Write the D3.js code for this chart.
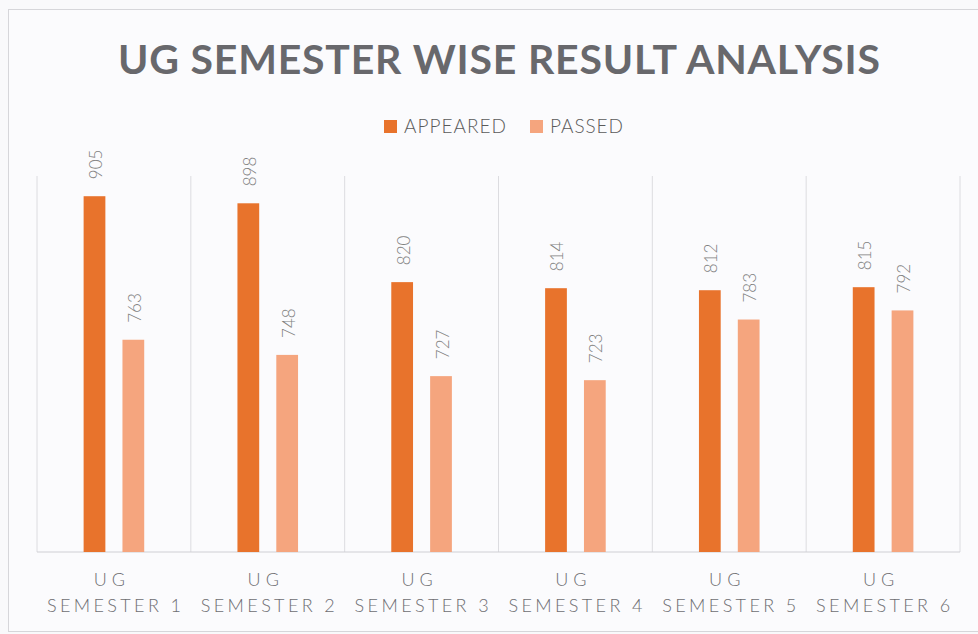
<!DOCTYPE html>
<html>
<head>
<meta charset="utf-8">
<script src="https://cdn.jsdelivr.net/npm/d3@7"></script>
<style>
  body { margin: 0; background: #f9f9fb; }
  svg text { font-family: Lato, "Open Sans", sans-serif; }
</style>
</head>
<body>
<svg id="chart" width="978" height="634"></svg>
<script>
const categories = ["SEMESTER 1", "SEMESTER 2", "SEMESTER 3", "SEMESTER 4", "SEMESTER 5", "SEMESTER 6"];
const series = ["APPEARED", "PASSED"];
const appeared = [905, 898, 820, 814, 812, 815];
const passed = [763, 748, 727, 723, 783, 792];
const colors = { APPEARED: "#e8732c", PASSED: "#f5a57e" };

const svg = d3.select("#chart");
const margin = { left: 37, right: 18, top: 176, bottom: 82 };
const W = 978, H = 634;

// chart border
svg.append("rect")
  .attr("x", 8.5).attr("y", 9.5)
  .attr("width", 980).attr("height", 622)
  .attr("fill", "#fbfbfd").attr("stroke", "#d6d6da");

const x0 = d3.scaleBand().domain(categories).range([margin.left, W - margin.right]);
const x1 = d3.scaleBand().domain(series).range([0, x0.bandwidth()]).paddingInner(0.44).paddingOuter(1.2);
const y = d3.scaleLinear().domain([553, 925]).range([H - margin.bottom, margin.top]);

// vertical gridlines at category edges
const edges = categories.map(c => x0(c)).concat([x0.range()[1]]);
svg.append("g").selectAll("line").data(edges).enter().append("line")
  .attr("x1", d => d).attr("x2", d => d)
  .attr("y1", margin.top).attr("y2", H - margin.bottom)
  .attr("stroke", "#dcdce0").attr("stroke-width", 1);

// baseline
svg.append("line")
  .attr("x1", x0.range()[0]).attr("x2", x0.range()[1])
  .attr("y1", y(553)).attr("y2", y(553))
  .attr("stroke", "#cfcfd4");

const rows = categories.map((c, i) => ({ cat: c, APPEARED: appeared[i], PASSED: passed[i] }));

const groups = svg.append("g").selectAll("g").data(rows).enter().append("g")
  .attr("transform", d => `translate(${x0(d.cat)},0)`);

const bars = groups.selectAll("g").data(d => series.map(s => ({ s, v: d[s] }))).enter().append("g");

bars.append("rect")
  .attr("x", d => x1(d.s))
  .attr("y", d => y(d.v))
  .attr("width", x1.bandwidth())
  .attr("height", d => y(553) - y(d.v))
  .attr("fill", d => colors[d.s]);

bars.append("text")
  .attr("transform", d => `translate(${x1(d.s) + x1.bandwidth() / 2 + 1},${y(d.v) - 17}) rotate(-90)`)
  .attr("dominant-baseline", "central")
  .attr("font-size", 17)
  .attr("font-weight", 300)
  .attr("fill", "#808080")
  .text(d => d.v);

// category labels
const cl = svg.append("g").selectAll("g").data(categories).enter().append("g")
  .attr("transform", d => `translate(${x0(d) + x0.bandwidth() / 2},0)`);
cl.append("text")
  .attr("x", -2).attr("y", 586)
  .attr("text-anchor", "middle")
  .attr("font-size", 18)
  .attr("font-weight", 300)
  .attr("letter-spacing", 5)
  .attr("fill", "#6e6e72")
  .text("UG");
cl.append("text")
  .attr("x", 0).attr("y", 612)
  .attr("text-anchor", "middle")
  .attr("font-size", 18)
  .attr("font-weight", 300)
  .attr("fill", "#6e6e72")
  .attr("textLength", 134)
  .attr("lengthAdjust", "spacing")
  .text(d => d);

// title
svg.append("text")
  .attr("x", 499).attr("y", 74)
  .attr("text-anchor", "middle")
  .attr("font-size", 41)
  .attr("font-weight", 700)
  .attr("fill", "#68686c")
  .attr("textLength", 762)
  .attr("lengthAdjust", "spacing")
  .text("UG SEMESTER WISE RESULT ANALYSIS");

// legend
const legendWidths = { APPEARED: 102, PASSED: 73 };
const legend = svg.append("g");
let lx = 384;
series.forEach(s => {
  legend.append("rect")
    .attr("x", lx).attr("y", 120).attr("width", 13).attr("height", 13)
    .attr("fill", colors[s]);
  legend.append("text")
    .attr("x", lx + 20).attr("y", 133)
    .attr("font-size", 19)
    .attr("font-weight", 300)
    .attr("fill", "#5a5a5a")
    .attr("textLength", legendWidths[s])
    .attr("lengthAdjust", "spacing")
    .text(s);
  lx += 20 + legendWidths[s] + 24;
});
</script>
</body>
</html>
